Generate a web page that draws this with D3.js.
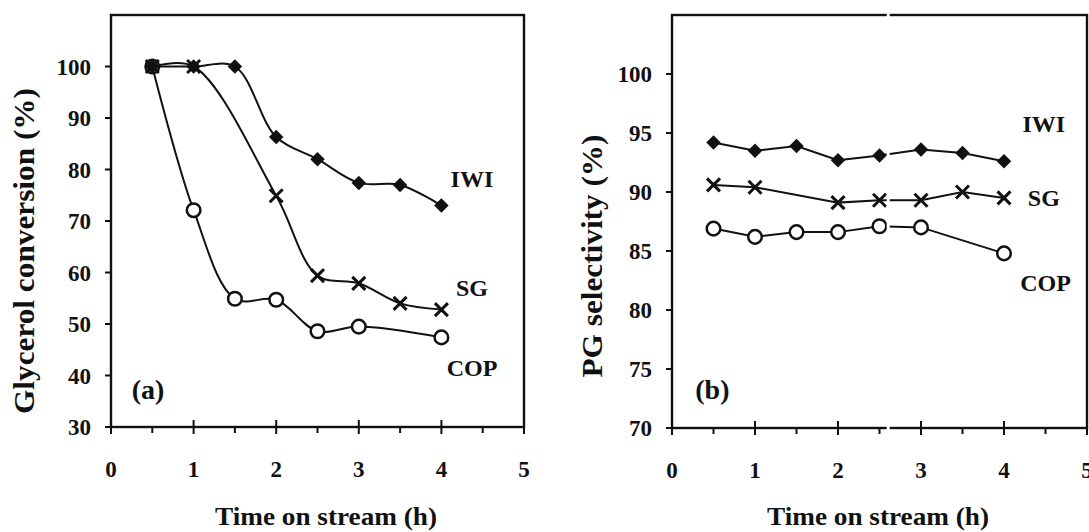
<!DOCTYPE html>
<html><head><meta charset="utf-8">
<script src="https://cdn.jsdelivr.net/npm/d3@7"></script>
<style>
html,body{margin:0;padding:0;background:#fff;}
svg{display:block;}
text{font-family:"Liberation Serif","Times New Roman",serif;font-weight:bold;fill:#111;}
</style></head>
<body>
<svg id="chart" width="1089" height="532"></svg>
<script>
// ---- data ----
const xTickValues = [0, 1, 2, 3, 4, 5];
const xMinorTicks = [0.5, 1.5, 2.5, 3.5, 4.5];
const convTicks = [30, 40, 50, 60, 70, 80, 90, 100];
const selTicks = [70, 75, 80, 85, 90, 95, 100];
const seriesNames = ["IWI", "SG", "COP"];

// (a) Glycerol conversion (%)
const convTimeIWI = [0.5, 1, 1.5, 2, 2.5, 3, 3.5, 4];
const convIWI     = [100, 100, 100, 86.3, 82.0, 77.4, 77.0, 73.0];
const convTimeSG  = [0.5, 1, 2, 2.5, 3, 3.5, 4];
const convSG      = [100, 100, 74.9, 59.4, 57.9, 54.0, 52.8];
const convTimeCOP = [0.5, 1, 1.5, 2, 2.5, 3, 4];
const convCOP     = [100, 72.1, 54.9, 54.7, 48.6, 49.5, 47.4];

// (b) PG selectivity (%)
const selTimeIWI = [0.5, 1, 1.5, 2, 2.5, 3, 3.5, 4];
const selIWI     = [94.2, 93.5, 93.9, 92.7, 93.1, 93.6, 93.3, 92.6];
const selTimeSG  = [0.5, 1, 2, 2.5, 3, 3.5, 4];
const selSG      = [90.6, 90.4, 89.1, 89.3, 89.3, 90.0, 89.5];
const selTimeCOP = [0.5, 1, 1.5, 2, 2.5, 3, 4];
const selCOP     = [86.9, 86.2, 86.6, 86.6, 87.1, 87.0, 84.8];

const zip = (t, v) => t.map((d, i) => ({x: d, y: v[i]}));

const svg = d3.select("#chart");

function panel(cfg) {
  const x = d3.scaleLinear().domain([0, 5]).range([cfg.left, cfg.right]);
  const y = d3.scaleLinear().domain(cfg.yDomain).range([cfg.bottom, cfg.top]);
  const g = svg.append("g");

  // frame
  g.append("rect").attr("x", x(0)).attr("y", y(cfg.yDomain[1]))
    .attr("width", x(5) - x(0)).attr("height", y(cfg.yDomain[0]) - y(cfg.yDomain[1]))
    .attr("fill", "none").attr("stroke", "#111").attr("stroke-width", 2.4);

  // y ticks
  const yt = g.append("g");
  cfg.yTicks.forEach(v => {
    yt.append("line").attr("x1", x(0) - 6).attr("x2", x(0)).attr("y1", y(v)).attr("y2", y(v))
      .attr("stroke", "#111").attr("stroke-width", 2);
    yt.append("text").attr("x", x(0) - 20).attr("y", y(v)).attr("dy", "0.35em")
      .attr("text-anchor", "end").style("font-size", "23px").text(v);
  });
  // x ticks
  xTickValues.forEach(v => {
    g.append("line").attr("x1", x(v)).attr("x2", x(v)).attr("y1", y(cfg.yDomain[0]) - 7).attr("y2", y(cfg.yDomain[0]) + 7)
      .attr("stroke", "#111").attr("stroke-width", 2);
    g.append("text").attr("x", x(v)).attr("y", y(cfg.yDomain[0]) + 50)
      .attr("text-anchor", "middle").style("font-size", "23px").text(v);
  });
  xMinorTicks.forEach(v => {
    g.append("line").attr("x1", x(v)).attr("x2", x(v)).attr("y1", y(cfg.yDomain[0])).attr("y2", y(cfg.yDomain[0]) + 6)
      .attr("stroke", "#111").attr("stroke-width", 2);
  });

  // axis titles
  g.append("text").attr("transform", `translate(${cfg.yTitleX},${cfg.yTitleY}) rotate(-90)`)
    .attr("text-anchor", "middle").style("font-size", "29px")
    .attr("textLength", cfg.yTitleLen).attr("lengthAdjust", "spacingAndGlyphs")
    .text(cfg.yTitle);
  g.append("text").attr("x", cfg.xTitleX).attr("y", 525)
    .attr("text-anchor", "middle").style("font-size", "26px")
    .attr("textLength", 222).attr("lengthAdjust", "spacingAndGlyphs")
    .text("Time on stream (h)");

  // panel label
  g.append("text").attr("x", x(cfg.tag[0])).attr("y", y(cfg.tag[1]))
    .style("font-size", "28px").text(cfg.tagText);

  // lines
  const line = d3.line().x(d => x(d.x)).y(d => y(d.y)).curve(cfg.curve);
  cfg.series.forEach(s => {
    g.append("path").attr("d", line(s.data)).attr("fill", "none")
      .attr("stroke", "#111").attr("stroke-width", 2);
  });
  // markers (drawn COP, IWI, SG so crosses sit on top, as in the original)
  [2, 0, 1].map(i => cfg.series[i]).forEach(s => {
    const m = g.append("g");
    s.data.forEach(d => {
      const cx = x(d.x), cy = y(d.y);
      if (s.marker === "diamond") {
        m.append("path").attr("d", d3.symbol(d3.symbolSquare, 105)())
          .attr("transform", `translate(${cx},${cy}) rotate(45)`).attr("fill", "#111");
      } else if (s.marker === "x") {
        m.append("path").attr("d", `M-6.5,-6.5L6.5,6.5M-6.5,6.5L6.5,-6.5`).attr("transform", `translate(${cx},${cy})`)
          .attr("stroke", "#111").attr("stroke-width", 3).attr("fill", "none");
      } else {
        m.append("circle").attr("cx", cx).attr("cy", cy).attr("r", 6.8)
          .attr("fill", "#fff").attr("stroke", "#111").attr("stroke-width", 2.5);
      }
    });
  });
  // series labels
  cfg.labels.forEach((l, i) => {
    g.append("text").attr("x", x(l[0])).attr("y", y(l[1])).attr("dy", "0.35em")
      .attr("text-anchor", "middle").style("font-size", "24px").text(seriesNames[i]);
  });
  return {x, y, g};
}

panel({
  left: 111, right: 524, top: 15, bottom: 427, yDomain: [30, 110], yTicks: convTicks,
  yTitle: "Glycerol conversion (%)", yTitleX: 34, yTitleY: 251, yTitleLen: 326, xTitleX: 326,
  tag: [0.25, 35.5], tagText: "(a)", curve: d3.curveCatmullRom.alpha(0.5),
  series: [
    {data: zip(convTimeIWI, convIWI), marker: "diamond"},
    {data: zip(convTimeSG, convSG), marker: "x"},
    {data: zip(convTimeCOP, convCOP), marker: "o"}
  ],
  labels: [[4.37, 78.3], [4.37, 57.0], [4.37, 41.5]]
});

const right = panel({
  left: 672, right: 1087, top: 15, bottom: 428, yDomain: [70, 105], yTicks: selTicks,
  yTitle: "PG selectivity (%)", yTitleX: 602, yTitleY: 256, yTitleLen: 243, xTitleX: 878,
  tag: [0.28, 72.5], tagText: "(b)", curve: d3.curveLinear,
  series: [
    {data: zip(selTimeIWI, selIWI), marker: "diamond"},
    {data: zip(selTimeSG, selSG), marker: "x"},
    {data: zip(selTimeCOP, selCOP), marker: "o"}
  ],
  labels: [[4.48, 95.8], [4.48, 89.5], [4.5, 82.3]]
});
// scan gap artifact in panel (b)
right.g.append("rect").attr("x", right.x(2.605) - 1.5).attr("y", right.y(105) - 3)
  .attr("width", 3).attr("height", right.y(70) - right.y(105) + 6).attr("fill", "#fff");
</script>
</body></html>
